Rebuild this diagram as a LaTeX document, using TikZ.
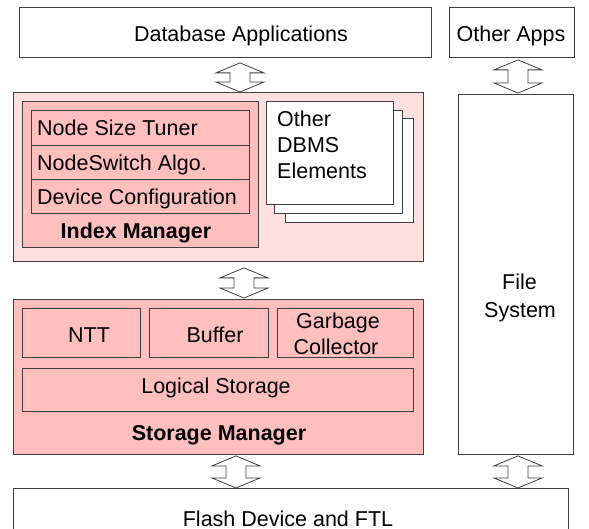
\documentclass[tikz,border=0pt]{standalone}
\usepackage{fontspec}
\setmainfont{Liberation Sans}
\usetikzlibrary{calc}
\definecolor{pinkA}{HTML}{FFE0E0}
\definecolor{pinkB}{HTML}{FFBFBF}
\definecolor{edge}{HTML}{404040}
\newcommand\udarrow[5]{%
  \coordinate (ua) at ($(#2.south -| #1)+(0,#4)$);
  \coordinate (ub) at ($(#3.north -| #1)+(0,-#5)$);
  \draw[darr] (ua) -- ($(ua)+(24,10)$) -- ($(ua)+(10,10)$) -- ($(ub)+(10,-10)$)
    -- ($(ub)+(24,-10)$) -- (ub) -- ($(ub)+(-24,-10)$) -- ($(ub)+(-10,-10)$)
    -- ($(ua)+(-10,10)$) -- ($(ua)+(-24,10)$) -- cycle;}
\begin{document}
\begin{tikzpicture}[x=1pt,y=-1pt,
  box/.style={draw=edge, line width=0.9pt, inner sep=0pt, anchor=north west},
  lbl/.style={inner sep=0pt, font=\fontsize{21.5}{26}\selectfont, text=black},
  blbl/.style={lbl, font=\fontsize{21.5}{26}\selectfont\bfseries},
  darr/.style={draw=edge, line width=0.8pt, fill=white, line join=miter}]
\useasboundingbox (0,0) rectangle (589,529);
\clip (0,0) rectangle (589,529);
\fill[white] (0,0) rectangle (589,529);

% top row
\node[box, minimum width=412, minimum height=50] (dbapps) at (19,7) {};
\node[lbl, anchor=base] (tdb) at (241,42) {Database Applications};
\node[box, minimum width=125, minimum height=50] (otherapps) at (449,7) {};
\node[lbl, anchor=base] (toa) at (511,42) {Other Apps};

% file system
\node[box, minimum width=115, minimum height=360] (fs) at (458,94) {};
\node[lbl, anchor=base west] (tfile) at (502,290) {File};
\node[lbl, anchor=base west] (tsys) at (484,318) {System};

% index manager
\node[box, fill=pinkA, minimum width=410, minimum height=169] (imgr) at (13,92) {};
\node[box, fill=pinkB, minimum width=236, minimum height=146] (iin) at (22,101) {};
\node[box, fill=pinkB, minimum width=218, minimum height=35] (r1) at (31,110) {};
\node[box, fill=pinkB, minimum width=218, minimum height=34] (r2) at (31,145) {};
\node[box, fill=pinkB, minimum width=218, minimum height=34] (r3) at (31,179) {};
\node[lbl, anchor=base west] (tr1) at (37,136) {Node Size Tuner};
\node[lbl, anchor=base west] (tr2) at (37,171) {NodeSwitch Algo.};
\node[lbl, anchor=base west] (tr3) at (37,205) {Device Configuration};
\node[blbl, anchor=base] (tim) at (136,239) {Index Manager};

% other DBMS elements (stack)
\node[box, fill=white, minimum width=128, minimum height=104] (ob3) at (285,118) {};
\node[box, fill=white, minimum width=128, minimum height=103] (ob2) at (274,110) {};
\node[box, fill=white, minimum width=127, minimum height=103] (ob1) at (266,101) {};
\node[lbl, anchor=base west, align=left] (tob1) at (277,127) {Other};
\node[lbl, anchor=base west] (tob2) at (277,153) {DBMS};
\node[lbl, anchor=base west] (tob3) at (277,179) {Elements};

% storage manager
\node[box, fill=pinkB, minimum width=410, minimum height=155] (smgr) at (13,299) {};
\node[box, fill=pinkB, minimum width=118, minimum height=49] (ntt) at (22,308) {};
\node[box, fill=pinkB, minimum width=119, minimum height=49] (buf) at (149,308) {};
\node[box, fill=pinkB, minimum width=136, minimum height=49] (gc) at (277,308) {};
\node[box, fill=pinkB, minimum width=391, minimum height=43] (ls) at (22,368) {};
\node[lbl, anchor=base] (tntt) at (89,342) {NTT};
\node[lbl, anchor=base] (tbuf) at (215,342) {Buffer};
\node[lbl, anchor=base] (tgc1) at (338,329) {Garbage};
\node[lbl, anchor=base] (tgc2) at (336,354) {Collector};
\node[lbl, anchor=base] (tls) at (216,393) {Logical Storage};
\node[blbl, anchor=base] (tsm) at (219,440) {Storage Manager};

% flash device
\node[box, minimum width=555, minimum height=60] (flash) at (13,488) {};
\node[lbl, anchor=base] (tfl) at (288,526) {Flash Device and FTL};

% arrow axes
\coordinate (ax1) at (240,0);
\coordinate (ax2) at (518,0);
\coordinate (ax3) at (244,0);
\coordinate (ax4) at (236,0);

\udarrow{ax1}{dbapps}{imgr}{5}{0}
\udarrow{ax2}{otherapps}{fs}{2}{1}
\udarrow{ax3}{imgr}{smgr}{6}{1}
\udarrow{ax4}{smgr}{flash}{1}{0}
\udarrow{ax2}{fs}{flash}{1}{0}
\end{tikzpicture}
\end{document}
